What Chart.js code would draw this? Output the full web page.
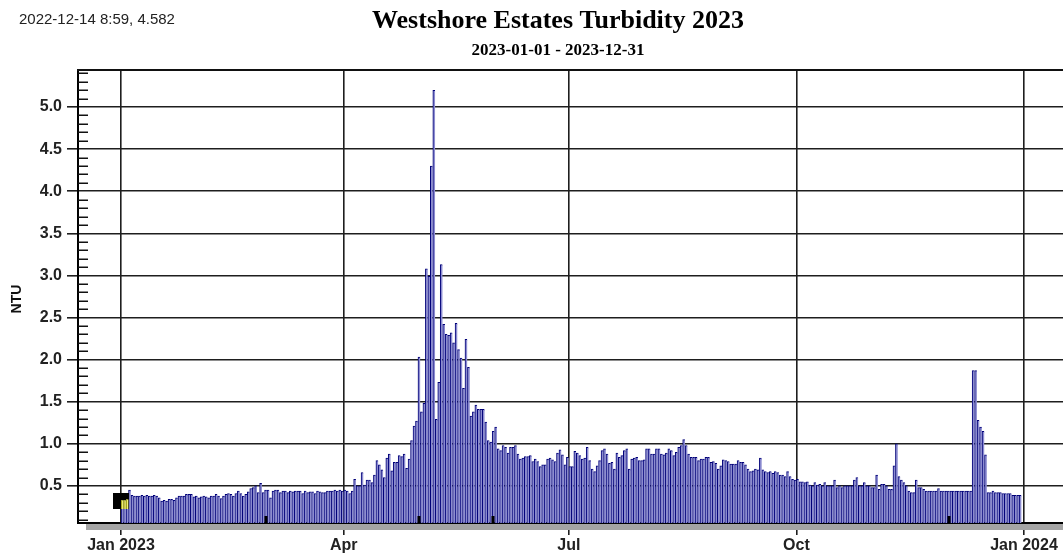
<!DOCTYPE html>
<html>
<head>
<meta charset="utf-8">
<script src="https://cdn.jsdelivr.net/npm/chart.js@4.4.1/dist/chart.umd.min.js"></script>
<style>
html,body{margin:0;padding:0;background:#fff;}
#wrap{width:1063px;height:554px;}
</style>
</head>
<body>
<div id="wrap"><canvas id="turbChart" width="1063" height="554"></canvas></div>
<script>
// daily turbidity (NTU), one array per month of 2023
const jan = [0.33,0.33,0.34,0.45,0.39,0.38,0.38,0.38,0.39,0.38, 0.39,0.38,0.38,0.39,0.38,0.36,0.32,0.33,0.32,0.34, 0.34,0.33,0.36,0.38,0.38,0.38,0.40,0.40,0.40,0.37, 0.38];
const feb = [0.36,0.37,0.38,0.37,0.36,0.38,0.38,0.40,0.38,0.35, 0.38,0.40,0.41,0.40,0.38,0.41,0.44,0.41,0.38,0.40, 0.43,0.47,0.48,0.50,0.42,0.53,0.42,0.45];
const mar = [0.45,0.36,0.44,0.45,0.45,0.42,0.44,0.44,0.42,0.44, 0.43,0.44,0.44,0.44,0.41,0.44,0.42,0.43,0.43,0.41, 0.44,0.43,0.42,0.42,0.44,0.44,0.44,0.45,0.44,0.45, 0.44];
const apr = [0.45,0.44,0.41,0.44,0.58,0.50,0.50,0.66,0.51,0.57, 0.57,0.54,0.63,0.80,0.75,0.69,0.60,0.83,0.88,0.68, 0.78,0.78,0.86,0.85,0.88,0.71,0.82,1.04,1.21,1.27];
const may = [2.03,1.38,1.48,3.08,2.99,4.30,5.20,1.29,1.73,3.13, 2.42,2.30,2.29,2.32,2.20,2.43,2.12,2.02,1.66,2.24, 1.91,1.33,1.38,1.46,1.41,1.41,1.41,1.26,1.04,1.02, 1.15];
const jun = [1.20,0.94,0.92,0.98,0.96,0.89,0.96,0.96,0.98,0.88, 0.82,0.83,0.85,0.85,0.86,0.79,0.82,0.79,0.73,0.75, 0.75,0.82,0.83,0.81,0.79,0.89,0.93,0.87,0.75,0.84];
const jul = [0.73,0.73,0.91,0.89,0.86,0.82,0.83,0.96,0.80,0.70, 0.67,0.74,0.80,0.92,0.94,0.88,0.77,0.78,0.70,0.89, 0.84,0.86,0.92,0.94,0.70,0.82,0.83,0.84,0.80,0.80, 0.81];
const aug = [0.94,0.94,0.88,0.88,0.94,0.94,0.88,0.87,0.89,0.94, 0.92,0.86,0.90,0.96,0.98,1.05,0.98,0.88,0.84,0.84, 0.84,0.80,0.82,0.82,0.84,0.84,0.78,0.79,0.77,0.70, 0.74];
const sep = [0.81,0.80,0.79,0.76,0.76,0.76,0.80,0.78,0.78,0.75, 0.70,0.67,0.68,0.70,0.69,0.83,0.69,0.67,0.66,0.67, 0.65,0.67,0.66,0.63,0.63,0.61,0.67,0.61,0.58,0.57];
const oct = [0.58,0.55,0.55,0.54,0.55,0.51,0.50,0.54,0.51,0.52, 0.50,0.54,0.50,0.50,0.50,0.57,0.48,0.50,0.48,0.50, 0.50,0.50,0.50,0.57,0.60,0.50,0.50,0.54,0.50,0.50, 0.48];
const nov = [0.48,0.63,0.46,0.52,0.52,0.50,0.46,0.46,0.74,1.00, 0.61,0.57,0.54,0.50,0.44,0.42,0.42,0.57,0.48,0.48, 0.46,0.44,0.44,0.44,0.44,0.44,0.47,0.44,0.44,0.44];
const dec = [0.44,0.44,0.44,0.44,0.44,0.44,0.44,0.44,0.44,0.44, 1.87,1.87,1.28,1.20,1.15,0.87,0.42,0.42,0.44,0.42, 0.42,0.42,0.41,0.41,0.41,0.41,0.39,0.39,0.39,0.39, null];

const tickDays = [0, 90, 181, 273, 365];          // day-of-year of the labelled dates
const tickLabels = ['Jan 2023', 'Apr', 'Jul', 'Oct', 'Jan 2024'];
const yTicks = [0.5, 1.0, 1.5, 2.0, 2.5, 3.0, 3.5, 4.0, 4.5, 5.0];
const flagDays = [58, 120, 150, 334];            // days with a flag mark at the bar foot
const cursorAt = [0, 0.32];                      // cursor box (day, NTU)
const cursorBars = 3;

const cursorText = '2022-12-14 8:59, 4.582';
const titleText = 'Westshore Estates Turbidity 2023';
const subTitleText = '2023-01-01 - 2023-12-31';
const yTitle = 'NTU';

const months = [jan, feb, mar, apr, may, jun, jul, aug, sep, oct, nov, dec];
let points = [];
let dayNo = 0;
months.forEach(m => {
    m.forEach(v => {
        if (v !== null) points.push({x: dayNo + 0.5, y: v});
        dayNo++;
    });
});

const SANS = '"Liberation Sans", Arial, sans-serif';
const SERIF = '"Liberation Serif", "Times New Roman", serif';

const decor = {
    id: 'decor',
    beforeDraw(chart){
        const c = chart.ctx;
        c.save();
        c.fillStyle = '#fff';
        c.fillRect(0, 0, chart.width, chart.height);
        c.restore();
    },
    beforeDatasetsDraw(chart){
        const {ctx, chartArea} = chart;
        ctx.save();
        ctx.fillStyle = '#a4a4a4';
        ctx.fillRect(chartArea.left + 8, chartArea.bottom + 1, chartArea.right - chartArea.left, 6);
        ctx.restore();
    },
    afterDatasetsDraw(chart){
        const {ctx} = chart;
        const x = chart.scales.x, y = chart.scales.y;
        const meta = chart.getDatasetMeta(0);
        ctx.save();
        ctx.fillStyle = '#000';
        flagDays.forEach(d => {
            const px = Math.round(x.getPixelForValue(d + 0.5));
            ctx.fillRect(px - 1.5, y.bottom - 7, 3, 7);
        });
        // cursor box
        const mx = Math.round(x.getPixelForValue(cursorAt[0]));
        const my = Math.round(y.getPixelForValue(cursorAt[1]));
        ctx.fillRect(mx - 8, my - 8, 16, 16);
        ctx.beginPath();
        ctx.rect(mx - 8, my - 8, 16, 16);
        ctx.clip();
        meta.data.slice(0, cursorBars).forEach(b => {
            ctx.fillStyle = '#f3f37e';
            ctx.fillRect(b.x - b.width / 2, b.y, b.width, b.base - b.y);
            ctx.fillStyle = '#a0a018';
            ctx.fillRect(b.x - b.width / 2, b.y, 1, b.base - b.y);
        });
        ctx.restore();
    },
    afterDraw(chart){
        const {ctx, chartArea} = chart;
        const y = chart.scales.y;
        ctx.save();
        // minor ticks every 0.1 inside the axis
        ctx.strokeStyle = '#111';
        ctx.lineWidth = 1.5;
        for (let k = 1; k <= 54; k++) {
            if (k % 5 === 0) continue;
            const py = Math.round(y.getPixelForValue(k / 10)) + 0.25;
            ctx.beginPath();
            ctx.moveTo(chartArea.left, py);
            ctx.lineTo(chartArea.left + 10, py);
            ctx.stroke();
        }
        // top frame line
        ctx.strokeStyle = '#111';
        ctx.lineWidth = 2;
        ctx.beginPath();
        ctx.moveTo(chartArea.left - 1, chartArea.top);
        ctx.lineTo(chartArea.right, chartArea.top);
        ctx.stroke();

        // texts
        ctx.fillStyle = '#222';
        ctx.font = '15px ' + SANS;
        ctx.textAlign = 'left';
        ctx.textBaseline = 'alphabetic';
        ctx.fillText(cursorText, 19, 24);

        ctx.fillStyle = '#000';
        ctx.textAlign = 'center';
        ctx.font = 'bold 26px ' + SERIF;
        ctx.fillText(titleText, 558, 28);
        ctx.font = 'bold 17px ' + SERIF;
        ctx.fillText(subTitleText, 558, 55);

        ctx.translate(17, 299);
        ctx.rotate(-Math.PI / 2);
        ctx.font = 'bold 14px ' + SANS;
        ctx.textBaseline = 'middle';
        ctx.fillStyle = '#111';
        ctx.fillText(yTitle, 0, 0);
        ctx.restore();
    }
};

new Chart(document.getElementById('turbChart'), {
    type: 'bar',
    data: {
        datasets: [{
            data: points,
            backgroundColor: '#8c8cd0',
            borderColor: '#000078',
            borderWidth: {left: 1, top: 1, right: 0, bottom: 0},
            borderSkipped: 'start',
            barThickness: 2.3
        }]
    },
    options: {
        responsive: false,
        animation: false,
        layout: {padding: {top: 70, left: 0, right: 0, bottom: 0}},
        plugins: {legend: {display: false}, tooltip: {enabled: false}},
        scales: {
            x: {
                type: 'linear',
                min: -17.38,
                max: 380.76,
                offset: false,
                bounds: 'data',
                z: 1,
                afterBuildTicks: s => { s.ticks = tickDays.map(v => ({value: v})); },
                afterFit: s => { s.height = 31; },
                ticks: {
                    callback: (v, i) => tickLabels[i],
                    font: {family: SANS, size: 16, weight: 'bold'},
                    color: '#222',
                    padding: 1,
                    maxRotation: 0,
                    autoSkip: false
                },
                grid: {color: '#1e1e1e', lineWidth: 1.6, tickLength: 12, tickColor: '#1e1e1e', offset: false},
                border: {color: '#000', width: 2}
            },
            y: {
                min: 0.06,
                max: 5.44,
                beginAtZero: false,
                bounds: 'data',
                z: 1,
                afterBuildTicks: s => { s.ticks = yTicks.map(v => ({value: v})); },
                afterFit: s => { s.width = 78; },
                ticks: {
                    callback: v => v.toFixed(1),
                    font: {family: SANS, size: 16, weight: 'bold'},
                    color: '#222',
                    padding: 5
                },
                grid: {color: '#1e1e1e', lineWidth: 1.6, tickLength: 11, tickColor: '#1e1e1e'},
                border: {color: '#000', width: 2}
            }
        }
    },
    plugins: [decor]
});
</script>
</body>
</html>
